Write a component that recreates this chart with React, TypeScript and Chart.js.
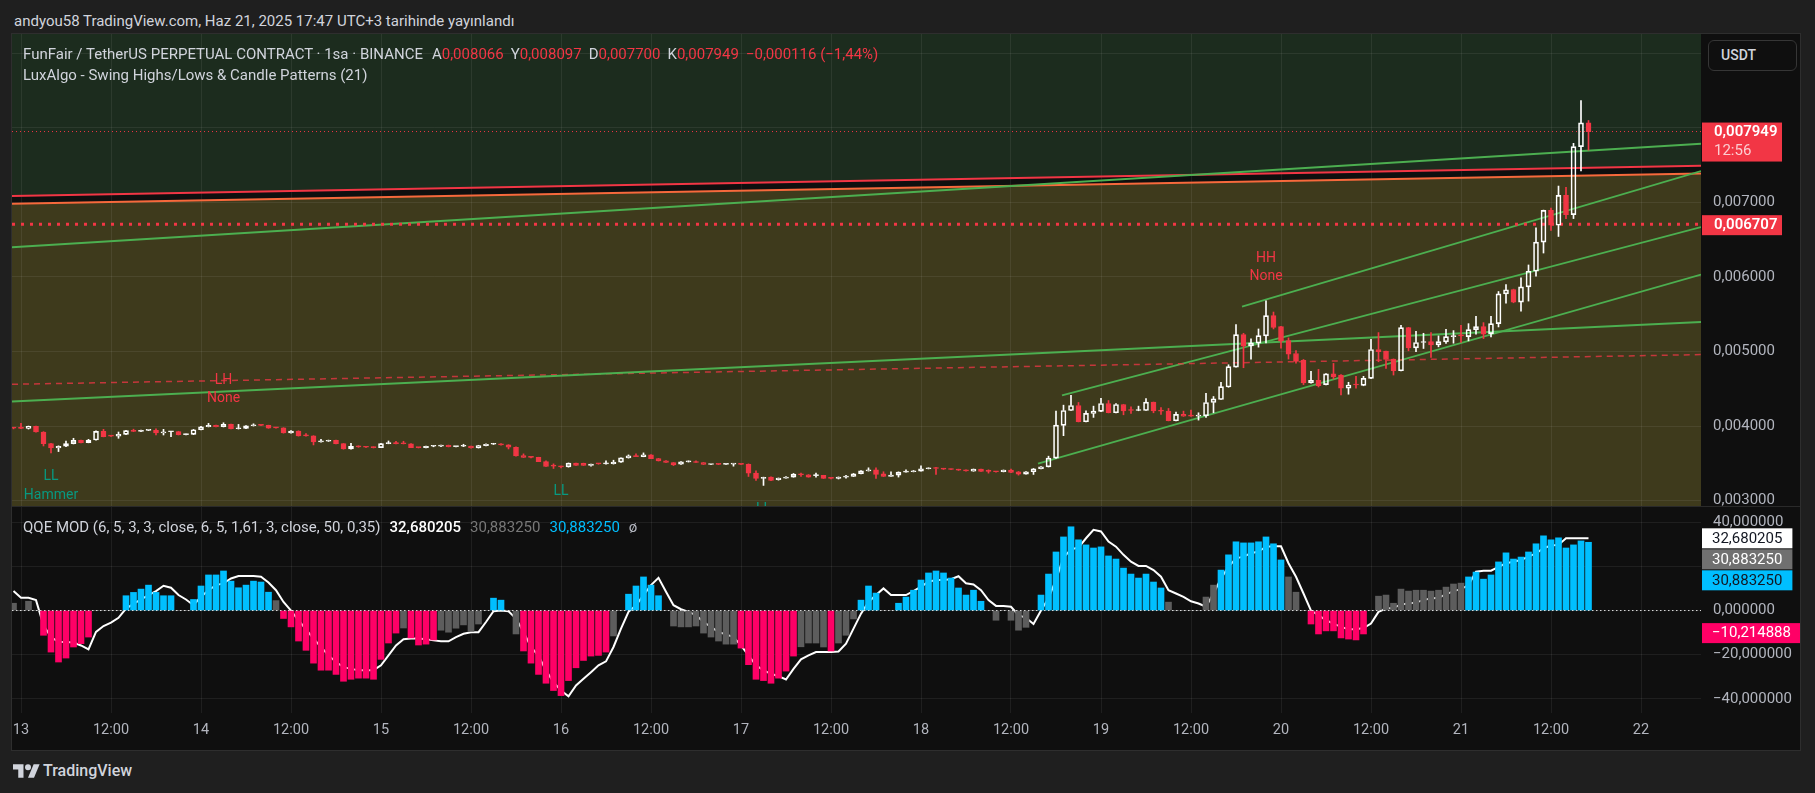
import React, { useEffect, useRef } from 'react';
import { Chart, registerables } from 'chart.js';

Chart.register(...registerables);

// ---------------- DATA ----------------
// Hourly candles (1sa). Index 0 = 13 Jun 00:00, first candle is index -1 (12 Jun 23:00).
const firstCandleIndex = -1;
// prices in millionths (3978 => 0,003978)
const candleOpen = [
  3978, 3973, 3969, 3996, 3920, 3764, 3707, 3729, 3764, 3809,
  3778, 3813, 3929, 3868, 3866, 3889, 3938, 3929, 3942, 3943,
  3907, 3924, 3926, 3884, 3889, 3951, 3991, 4009, 3991, 4022,
  3964, 3969, 4004, 4018, 4009, 3978, 3975, 3907, 3933, 3872,
  3868, 3787, 3796, 3809, 3764, 3693, 3729, 3720, 3716, 3711,
  3764, 3769, 3766, 3763, 3711, 3710, 3729, 3730, 3742, 3724,
  3729, 3730, 3707, 3738, 3756, 3760, 3747, 3716, 3604, 3584,
  3580, 3524, 3466, 3458, 3453, 3502, 3500, 3471, 3495, 3493,
  3494, 3516, 3573, 3600, 3591, 3613, 3564, 3533, 3511, 3489,
  3520, 3524, 3511, 3484, 3490, 3486, 3489, 3490, 3487, 3369,
  3298, 3316, 3280, 3302, 3316, 3352, 3347, 3336, 3338, 3302,
  3298, 3316, 3324, 3360, 3400, 3413, 3360, 3324, 3342, 3382,
  3387, 3396, 3427, 3438, 3431, 3424, 3418, 3411, 3396, 3422,
  3396, 3390, 3387, 3409, 3387, 3356, 3387, 3427, 3453, 3569,
  4009, 4209, 4276, 4058, 4169, 4196, 4302, 4178, 4289, 4213,
  4209, 4209, 4320, 4204, 4200, 4071, 4156, 4138, 4134, 4138,
  4316, 4356, 4524, 4791, 5227, 5076, 5111, 5209, 5480, 5333,
  5147, 4973, 4880, 4578, 4613, 4556, 4700, 4684, 4507, 4555,
  4545, 4640, 5027, 5004, 4898, 4742, 5320, 5049, 5120, 5133,
  5089, 5129, 5200, 5216, 5200, 5293, 5333, 5240, 5373, 5773,
  5831, 5662, 5867, 6076, 6467, 6893, 6693, 7093, 6836, 7747,
  8066,
];
const candleHigh = [
  3982, 4036, 4000, 3998, 3925, 3770, 3735, 3800, 3836, 3812,
  3822, 3935, 3956, 3872, 3920, 3942, 3958, 3946, 3946, 3964,
  3956, 3928, 3930, 3895, 3955, 3995, 4036, 4012, 4044, 4025,
  4022, 4008, 4030, 4020, 4012, 3982, 3978, 3938, 3936, 3900,
  3871, 3822, 3812, 3811, 3766, 3769, 3735, 3726, 3722, 3767,
  3800, 3796, 3796, 3765, 3714, 3733, 3738, 3746, 3745, 3733,
  3756, 3733, 3742, 3760, 3769, 3764, 3750, 3720, 3627, 3590,
  3582, 3533, 3493, 3462, 3505, 3504, 3503, 3491, 3498, 3533,
  3542, 3575, 3613, 3627, 3640, 3616, 3567, 3536, 3513, 3522,
  3533, 3533, 3513, 3491, 3493, 3496, 3493, 3494, 3493, 3400,
  3315, 3318, 3304, 3324, 3364, 3369, 3349, 3369, 3340, 3308,
  3318, 3338, 3364, 3404, 3440, 3440, 3387, 3387, 3386, 3413,
  3404, 3467, 3440, 3445, 3434, 3427, 3422, 3413, 3424, 3424,
  3413, 3392, 3411, 3422, 3390, 3390, 3431, 3458, 3596, 4200,
  4280, 4413, 4316, 4204, 4267, 4373, 4342, 4300, 4292, 4258,
  4267, 4369, 4322, 4249, 4236, 4187, 4200, 4213, 4178, 4440,
  4396, 4587, 4822, 5360, 5244, 5169, 5302, 5680, 5529, 5336,
  5182, 5013, 4893, 4733, 4760, 4702, 4840, 4690, 4587, 4667,
  4667, 5164, 5253, 5006, 4900, 5351, 5324, 5271, 5244, 5253,
  5209, 5298, 5280, 5351, 5373, 5471, 5387, 5471, 5804, 5898,
  5836, 5987, 6160, 6658, 6896, 6924, 7218, 7200, 7791, 8364,
  8097,
];
const candleLow = [
  3962, 3964, 3960, 3918, 3733, 3640, 3658, 3725, 3760, 3775,
  3775, 3810, 3855, 3862, 3836, 3885, 3925, 3925, 3938, 3880,
  3880, 3858, 3880, 3880, 3885, 3948, 3988, 3988, 3988, 3962,
  3960, 3966, 4000, 4005, 3970, 3970, 3905, 3905, 3865, 3865,
  3747, 3785, 3794, 3762, 3690, 3690, 3715, 3712, 3706, 3709,
  3762, 3760, 3760, 3709, 3706, 3708, 3722, 3722, 3720, 3720,
  3726, 3705, 3705, 3735, 3754, 3742, 3693, 3596, 3576, 3574,
  3522, 3455, 3431, 3440, 3449, 3468, 3470, 3462, 3488, 3490,
  3490, 3514, 3570, 3588, 3588, 3562, 3531, 3509, 3470, 3487,
  3518, 3509, 3482, 3482, 3482, 3484, 3462, 3484, 3324, 3271,
  3204, 3269, 3275, 3300, 3314, 3324, 3314, 3314, 3296, 3290,
  3290, 3300, 3322, 3358, 3396, 3298, 3322, 3320, 3316, 3380,
  3385, 3394, 3425, 3351, 3418, 3414, 3405, 3396, 3394, 3389,
  3369, 3380, 3385, 3376, 3342, 3354, 3351, 3425, 3451, 3565,
  3871, 4205, 4055, 4055, 4116, 4194, 4176, 4176, 4151, 4169,
  4205, 4205, 4178, 4155, 4069, 4069, 4130, 4130, 4080, 4116,
  4178, 4354, 4520, 4789, 4782, 4898, 5058, 5116, 5302, 5044,
  4898, 4844, 4556, 4575, 4524, 4550, 4631, 4418, 4427, 4507,
  4540, 4636, 4862, 4773, 4684, 4740, 5009, 4996, 5040, 4920,
  5062, 5107, 5111, 5120, 5142, 5231, 5173, 5196, 5329, 5649,
  5653, 5542, 5676, 6009, 6320, 6622, 6542, 6782, 6782, 7422,
  7700,
];
const candleClose = [
  3973, 3969, 3996, 3920, 3764, 3707, 3729, 3764, 3809, 3778,
  3813, 3929, 3858, 3866, 3889, 3938, 3929, 3942, 3943, 3907,
  3924, 3926, 3884, 3889, 3951, 3991, 4009, 3991, 4022, 3964,
  3969, 4004, 4018, 4009, 3973, 3975, 3907, 3933, 3867, 3868,
  3787, 3796, 3809, 3764, 3693, 3729, 3720, 3716, 3711, 3764,
  3769, 3764, 3763, 3711, 3710, 3729, 3730, 3742, 3724, 3729,
  3730, 3707, 3738, 3756, 3760, 3747, 3716, 3600, 3578, 3580,
  3524, 3458, 3462, 3453, 3502, 3471, 3471, 3489, 3493, 3494,
  3516, 3573, 3600, 3591, 3613, 3564, 3533, 3511, 3480, 3520,
  3521, 3511, 3484, 3489, 3486, 3493, 3490, 3487, 3369, 3298,
  3311, 3271, 3302, 3316, 3356, 3347, 3316, 3338, 3298, 3298,
  3316, 3324, 3360, 3400, 3413, 3351, 3324, 3342, 3382, 3387,
  3400, 3427, 3436, 3431, 3422, 3418, 3409, 3400, 3422, 3391,
  3393, 3387, 3409, 3378, 3356, 3387, 3427, 3453, 3569, 4013,
  4209, 4276, 4058, 4169, 4200, 4302, 4178, 4289, 4204, 4209,
  4212, 4320, 4204, 4200, 4071, 4156, 4133, 4134, 4147, 4316,
  4364, 4529, 4796, 5227, 5071, 5116, 5213, 5480, 5324, 5138,
  4964, 4867, 4578, 4613, 4542, 4700, 4660, 4507, 4551, 4550,
  4640, 5027, 4996, 4893, 4742, 5320, 5049, 5120, 5129, 5089,
  5133, 5200, 5213, 5209, 5293, 5333, 5231, 5373, 5773, 5827,
  5662, 5867, 6076, 6467, 6893, 6693, 7093, 6836, 7747, 8065,
  7949,
];

// QQE MOD histogram (same hourly index as candles) and colour codes: b = blue, r = pink, g = grey
const qqeHist = [
  3.3, 0, 4.2, 0, -11.2, -18.8, -23.3, -21.5, -16.5, -15,
  -12, 0, 0, 0, 0, 6.7, 8.2, 9.7, 11.5, 8.2,
  6.7, 6.7, 0, 0, 5, 11.1, 16.1, 16.1, 17.9, 13.3,
  10.3, 11.5, 13.3, 12.9, 8.3, 4.5, -3.6, -7.4, -13.8, -18,
  -23.8, -27, -27, -28.9, -32, -31.1, -30.6, -30.6, -31.1, -22.1,
  -14.7, -10.2, -7.9, -12.4, -15.6, -15.2, -13.3, -8.9, -9.8, -8,
  -6.5, -9.4, -6.1, 0, 5.6, 4.7, 0, -10.6, -18.3, -23.8,
  -28.9, -32.9, -36.2, -38.5, -31.7, -25.9, -22.6, -20.6, -20.3, -18.8,
  -11.5, 0, 7.4, 11.1, 15.2, 11.5, 6.7, 0, -7, -7.4,
  -7.4, -7, -10.2, -12, -13.8, -15.2, -15.2, -17, -24.5, -31.1,
  -31.7, -32.9, -30.6, -27.4, -20.6, -16.4, -14.7, -14.7, -16.5, -18.3,
  -14.7, -11.2, -3.8, 4.7, 11.1, 7.9, 0, 0, 3.3, 6.1,
  9.2, 13.8, 17, 17.9, 17, 14.7, 10.2, 7, 9.2, 4.2,
  0, -4.4, 0, -4.4, -8.9, -7.6, 0, 7, 16.5, 26.5,
  33.3, 37.9, 32, 29.7, 28.3, 28.8, 24.7, 23.3, 19.2, 16.5,
  14.7, 16.5, 12.9, 10.2, 3.8, 0, 0, 0, 0, 6.1,
  11.5, 18.3, 25.2, 31.1, 30.6, 30.6, 31.1, 33.3, 30.2, 22.9,
  15.2, 8.3, 0, -6.1, -10.6, -9.2, -9.2, -12.4, -12.9, -13.3,
  -10.6, 0, 6.5, 7, 3.3, 9.7, 8.8, 9.2, 9.2, 8.8,
  9.2, 10.6, 12, 12.4, 15.2, 17.4, 14.2, 16.1, 22, 26.1,
  23.3, 24.2, 26.5, 30.2, 33.8, 32, 32.9, 28.3, 29.7, 31.5,
  30.88325,
];
const qqeHistCodes = (
  'gggg' + 'rrrrrrr' + 'gggg' + 'bbbbbbb' + 'gg' + 'bbbbbbbbbbb' + 'g' +
  'rrrrrrrrrrrrrrrr' + 'g' + 'rrrr' + 'ggggggg' + 'bb' + 'gg' + 'rrrrrrrrrrrr' +
  'gg' + 'bbbbb' + 'gggggggggg' + 'rrrrrrrr' + 'gggg' + 'r' + 'ggg' + 'bbb' + 'gg' +
  'bbbbbbbbbbbb' + 'ggggggg' + 'bbbbbbbbbbbbbbbbb' + 'ggggggg' + 'bbbbbbbbb' + 'ggg' +
  'rrrrrrrr' + 'ggggggggggggg' + 'bbbbbbbbbbbbbbbbb'
).split('');
// QQE white line
const qqeLine = [
  8.8, 5.8, 5.8, 4.7, -6.7, -12, -14.2, -14.2, -14.5, -15.8,
  -17.6, -9.7, -7, -5.5, -3.3, 0.9, 3, 5, 7, 8.8,
  11.2, 10.3, 7, 5, 2.4, 6.2, 9.2, 11.5, 12.3, 14.5,
  15.6, 15.6, 15.6, 15.3, 12.7, 9.2, 3.9, 0, -4.4, -8.5,
  -12.7, -16.5, -20.3, -23.3, -25.6, -26.4, -27, -27, -27, -24.8,
  -20.3, -15.8, -13, -12.7, -12.7, -13, -13.5, -13.9, -13.9, -12,
  -10.5, -9.8, -9.8, -5.2, -0.3, 0, -0.3, -3.6, -9.7, -16.5,
  -20.5, -27.1, -32.4, -36.2, -38.8, -33.9, -30.9, -27.9, -24.8, -23,
  -16.5, -8.2, -0.6, 2.4, 7, 11.5, 14.8, 8.5, 2.4, 0.6,
  -0.6, -2.1, -5.2, -7.4, -9.7, -10.8, -12, -15.8, -20.3, -24.8,
  -27.1, -28.6, -29.7, -31.2, -26.4, -22.1, -20.3, -18.8, -18.8, -18.8,
  -18.5, -15, -8.2, -1.4, 3.9, 7, 10, 7, 7, 7,
  8.8, 10.8, 13, 13.8, 13.8, 14.2, 15.5, 12.3, 11.8, 9.2,
  4.7, 2.1, 2.1, 1.7, -2.1, -3.3, -6.1, 0, 5.5, 14,
  24, 27.7, 28.5, 32.7, 36.5, 35.8, 31.2, 28.9, 25.2, 22.1,
  20.2, 20.2, 18.3, 15.3, 9.2, 7.7, 6.2, 4.2, 3.2, 1.7,
  7.7, 14.5, 19.8, 23.6, 24.4, 25.9, 26.7, 28.9, 29.1, 29.1,
  21.4, 15.3, 7.7, 0, -2.1, -4.4, -5.9, -7.4, -8.5, -8.5,
  -7.9, -5.9, -0.6, 0.9, 1.2, 2.7, 3.2, 3.6, 4.8, 5.5,
  5.8, 7.3, 8.8, 9.7, 11.5, 17.6, 18, 18, 19.8, 21.4,
  22.1, 22.9, 24.4, 25.9, 28.2, 29.4, 29.7, 32.7, 32.7, 32.7,
  32.680205,
];
// axis marker values in the QQE pane (line, grey, blue, hidden series)
const qqeMarkValues = [32.680205, 30.88325, 30.88325, -10.214888];

// Trend lines [hour index, price]
const redTrend = [[-1.2, 0.007085], [224, 0.007489]];
const orangeTrend = [[-1.2, 0.006981], [224, 0.007385]];
const greenLongUpper = [[-1.2, 0.006397], [224, 0.007786]];
const greenLongLower = [[-1.2, 0.004328], [224, 0.005396]];
const redDashedLevel = [[-1.2, 0.00456], [224, 0.004958]];
const channelUpper = [[162.8, 0.0056], [224, 0.007419]];
const channelMiddle = [[138.8, 0.004412], [224, 0.006669]];
const channelLower = [[135.6, 0.003497], [224, 0.00603]];
const dottedLevel = 0.006707;
const barCountdown = '12:56';

// Swing labels
const swingLabelIndex = [4, 27, 72, 99, 166];
const swingLabelSide = ['low', 'high', 'low', 'low', 'high'];
const swingLabelTop = ['LL', 'LH', 'LL', 'LL', 'HH'];
const swingLabelBottom = ['Hammer', 'None', '', '', 'None'];

// Axes
const timeTickValues = [0, 12, 24, 36, 48, 60, 72, 84, 96, 108, 120, 132, 144, 156, 168, 180, 192, 204, 216];
const timeTickLabels = ['13', '12:00', '14', '12:00', '15', '12:00', '16', '12:00', '17', '12:00', '18', '12:00', '19', '12:00', '20', '12:00', '21', '12:00', '22'];
const priceTickValues = [0.003, 0.004, 0.005, 0.006, 0.007, 0.008, 0.009];
const priceTickShown = [true, true, true, true, true, false, false];
const qqeTickValues = [40, 20, 0, -20, -40];
const qqeTickShown = [true, false, true, true, true];

// ---------------- STYLE ----------------
const FONT = 'Roboto, "Noto Sans", sans-serif';
const RED = '#f23645';
const ORANGE = '#f7693c';
const GREEN = '#4caf50';
const TEAL = '#089981';
const WHITE = '#ffffff';
const BLUE = '#00bfff';
const PINK = '#ff0066';
const GREYBAR = '#5d5d5d';
const GRID = 'rgba(255,255,255,0.07)';
const AXIS_TEXT = '#b2b5be';
const TEXT = '#d1d4dc';
const GREEN_ZONE = '#1c2c1e';
const BAND_ZONE = '#4a4826';
const OLIVE_ZONE = '#3e3a1c';

const X_MIN = -1.2;
const X_MAX = 224;
const PRICE_MIN = 0.002928;
const PRICE_MAX = 0.009257;
const QQE_MIN = -44.1;
const QQE_MAX = 47.3;
const AXIS_W = 99;
const AXIS_FONT = 15;

const fmt6 = (v: number) => (v < 0 ? '\u2212' : '') + Math.abs(v).toFixed(6).replace('.', ',');
const px = (v: number) => v / 1e6;
const xy = (pts: number[][]) => pts.map((p) => ({ x: p[0], y: p[1] }));

function buildMain(canvas: HTMLCanvasElement) {
  const idx = candleClose.map((_, k) => firstCandleIndex + k);
  const isUp = (k: number) => candleClose[k] >= candleOpen[k];
  const colors = idx.map((_, k) => (isUp(k) ? WHITE : RED));
  const bodyData = idx.map((x, k) => ({ x, y: [px(candleOpen[k]), px(candleClose[k])] }));
  const wickLow = idx.map((x, k) => ({ x, y: [px(candleLow[k]), px(Math.min(candleOpen[k], candleClose[k]))] }));
  const wickHigh = idx.map((x, k) => ({ x, y: [px(Math.max(candleOpen[k], candleClose[k])), px(candleHigh[k])] }));
  const lastClose = px(candleClose[candleClose.length - 1]);

  const line = (pts: number[][], color: string, width: number, dash: number[], order: number, extra: any = {}) => ({
    type: 'line',
    data: xy(pts),
    borderColor: color,
    borderWidth: width,
    borderDash: dash,
    pointRadius: 0,
    tension: 0,
    fill: false,
    order,
    ...extra,
  });

  const swingPlugin = {
    id: 'swingLabels',
    afterDatasetsDraw(chart: any) {
      const { ctx, chartArea, scales } = chart;
      ctx.save();
      ctx.beginPath();
      ctx.rect(chartArea.left, chartArea.top, chartArea.right - chartArea.left, chartArea.bottom - chartArea.top);
      ctx.clip();
      ctx.font = `14px ${FONT}`;
      ctx.textAlign = 'center';
      ctx.textBaseline = 'middle';
      swingLabelIndex.forEach((ci, n) => {
        const k = ci - firstCandleIndex;
        const high = swingLabelSide[n] === 'high';
        const anchor = scales.y.getPixelForValue(px(high ? candleHigh[k] : candleLow[k]));
        const x = scales.x.getPixelForValue(ci);
        ctx.fillStyle = high ? RED : TEAL;
        ctx.fillText(swingLabelTop[n], x, high ? anchor - 42 : anchor + 24);
        if (swingLabelBottom[n]) ctx.fillText(swingLabelBottom[n], x, high ? anchor - 24 : anchor + 43);
      });
      ctx.restore();
    },
  };

  const boxPlugin = {
    id: 'priceBoxes',
    afterDraw(chart: any) {
      const { ctx, chartArea, scales } = chart;
      const x0 = chartArea.right + 1;
      ctx.save();
      ctx.textAlign = 'left';
      ctx.textBaseline = 'middle';
      const yp = scales.y.getPixelForValue(lastClose);
      ctx.fillStyle = RED;
      ctx.fillRect(x0, yp - 9, 80, 39);
      ctx.font = `600 ${AXIS_FONT}px ${FONT}`;
      ctx.fillStyle = WHITE;
      ctx.fillText(fmt6(lastClose), x0 + 12, yp + 1);
      ctx.font = `${AXIS_FONT}px ${FONT}`;
      ctx.fillStyle = 'rgba(255,255,255,0.75)';
      ctx.fillText(barCountdown, x0 + 12, yp + 19.5);
      const yl = scales.y.getPixelForValue(dottedLevel);
      ctx.fillStyle = RED;
      ctx.fillRect(x0, yl - 9, 80, 20);
      ctx.font = `600 ${AXIS_FONT}px ${FONT}`;
      ctx.fillStyle = WHITE;
      ctx.fillText(fmt6(dottedLevel), x0 + 12, yl + 1.5);
      ctx.restore();
    },
  };

  return new Chart(canvas, {
    type: 'bar',
    data: {
      datasets: [
        line(redTrend, RED, 2, [], 20, { fill: 'end', backgroundColor: GREEN_ZONE }),
        line(orangeTrend, ORANGE, 2, [], 20, { fill: '-1', backgroundColor: BAND_ZONE }),
        line(orangeTrend, 'rgba(0,0,0,0)', 0, [], 21, { fill: 'start', backgroundColor: OLIVE_ZONE }),
        line(greenLongUpper, GREEN, 2, [], 10),
        line(greenLongLower, GREEN, 2, [], 10),
        line(redDashedLevel, 'rgba(242,54,69,0.75)', 1.5, [6, 5], 10),
        line(channelUpper, GREEN, 1.8, [], 10),
        line(channelMiddle, GREEN, 1.8, [], 10),
        line(channelLower, GREEN, 1.8, [], 10),
        line([[X_MIN, dottedLevel], [X_MAX, dottedLevel]], RED, 3, [3, 6], 9),
        line([[X_MIN, lastClose], [X_MAX, lastClose]], RED, 1, [1, 3], 9),
        { type: 'bar', data: wickLow, backgroundColor: colors, barThickness: 1, grouped: false, order: 2 },
        { type: 'bar', data: wickHigh, backgroundColor: colors, barThickness: 1, grouped: false, order: 2 },
        {
          type: 'bar',
          data: bodyData,
          backgroundColor: idx.map((_, k) => (isUp(k) ? 'rgba(0,0,0,0)' : RED)),
          borderColor: colors,
          borderWidth: 1,
          borderSkipped: false,
          barThickness: 5,
          minBarLength: 1,
          grouped: false,
          order: 1,
        },
      ] as any,
    },
    options: {
      animation: false,
      responsive: false,
      maintainAspectRatio: false,
      layout: { padding: 0 },
      plugins: {
        legend: { display: false },
        tooltip: { enabled: false },
        filler: { drawTime: 'beforeDraw' },
      } as any,
      scales: {
        x: {
          type: 'linear',
          min: X_MIN,
          max: X_MAX,
          offset: false,
          grid: { color: GRID, offset: false, drawTicks: false },
          border: { display: false },
          ticks: { display: false },
          afterBuildTicks: (s: any) => {
            s.ticks = timeTickValues.map((v) => ({ value: v }));
          },
          afterFit: (s: any) => {
            s.height = 0;
            s.paddingLeft = 0;
            s.paddingRight = 0;
          },
        },
        y: {
          type: 'linear',
          position: 'right',
          min: PRICE_MIN,
          max: PRICE_MAX,
          grid: { color: GRID, drawTicks: false },
          border: { display: false },
          ticks: {
            autoSkip: false,
            color: AXIS_TEXT,
            font: { size: AXIS_FONT, family: FONT },
            padding: 12,
            callback: (v: any, i: number) => (priceTickShown[i] ? fmt6(Number(v)) : ''),
          },
          afterBuildTicks: (s: any) => {
            s.ticks = priceTickValues.map((v) => ({ value: v }));
          },
          afterFit: (s: any) => {
            s.width = AXIS_W;
            s.paddingTop = 0;
            s.paddingBottom = 0;
          },
        },
      } as any,
    },
    plugins: [swingPlugin, boxPlugin],
  } as any);
}

function buildQqe(canvas: HTMLCanvasElement) {
  const idx = qqeHist.map((_, k) => firstCandleIndex + k);
  const colorMap: Record<string, string> = { b: BLUE, r: PINK, g: GREYBAR };
  const markBg = [WHITE, '#707070', BLUE, PINK];
  const markFg = ['#131722', WHITE, '#131722', WHITE];

  const markPlugin = {
    id: 'qqeMarks',
    afterDraw(chart: any) {
      const { ctx, chartArea, scales } = chart;
      const x0 = chartArea.right + 1;
      ctx.save();
      ctx.font = `${AXIS_FONT}px ${FONT}`;
      ctx.textAlign = 'left';
      ctx.textBaseline = 'middle';
      let prevBottom = -Infinity;
      qqeMarkValues.forEach((v, n) => {
        const h = 20;
        let cy = scales.y.getPixelForValue(v);
        if (cy - h / 2 < prevBottom + 1) cy = prevBottom + 1 + h / 2;
        const label = fmt6(v);
        const w = ctx.measureText(label).width + 20;
        ctx.fillStyle = markBg[n];
        ctx.fillRect(x0, cy - h / 2, w, h);
        ctx.fillStyle = markFg[n];
        ctx.fillText(label, x0 + 10, cy + 0.5);
        prevBottom = cy + h / 2;
      });
      ctx.restore();
    },
  };

  return new Chart(canvas, {
    type: 'bar',
    data: {
      datasets: [
        {
          type: 'line',
          data: [{ x: X_MIN, y: 0 }, { x: X_MAX, y: 0 }],
          borderColor: 'rgba(255,255,255,0.85)',
          borderWidth: 1,
          borderDash: [1.5, 2.5],
          pointRadius: 0,
          fill: false,
          order: 0,
        },
        {
          type: 'bar',
          data: idx.map((x, k) => ({ x, y: qqeHist[k] })),
          backgroundColor: qqeHistCodes.map((c) => colorMap[c]),
          barThickness: 6,
          grouped: false,
          order: 1,
        },
        {
          type: 'line',
          data: idx.map((x, k) => ({ x, y: qqeLine[k] })),
          borderColor: WHITE,
          borderWidth: 2,
          pointRadius: 0,
          tension: 0,
          fill: false,
          order: 2,
        },
      ] as any,
    },
    options: {
      animation: false,
      responsive: false,
      maintainAspectRatio: false,
      layout: { padding: 0 },
      plugins: { legend: { display: false }, tooltip: { enabled: false } },
      scales: {
        x: {
          type: 'linear',
          min: X_MIN,
          max: X_MAX,
          offset: false,
          grid: { color: GRID, offset: false, drawTicks: true, tickLength: 5, tickColor: GRID },
          border: { display: false },
          ticks: {
            autoSkip: false,
            maxRotation: 0,
            minRotation: 0,
            color: AXIS_TEXT,
            font: { size: 14.5, family: FONT },
            padding: 9,
            callback: (_v: any, i: number) => timeTickLabels[i],
          },
          afterBuildTicks: (s: any) => {
            s.ticks = timeTickValues.map((v) => ({ value: v }));
          },
          afterFit: (s: any) => {
            s.height = 42;
            s.paddingLeft = 0;
            s.paddingRight = 0;
          },
        },
        y: {
          type: 'linear',
          position: 'right',
          min: QQE_MIN,
          max: QQE_MAX,
          grid: { color: GRID, drawTicks: false },
          border: { display: false },
          ticks: {
            autoSkip: false,
            color: AXIS_TEXT,
            font: { size: AXIS_FONT, family: FONT },
            padding: 12,
            callback: (v: any, i: number) => (qqeTickShown[i] ? fmt6(Number(v)) : ''),
          },
          afterBuildTicks: (s: any) => {
            s.ticks = qqeTickValues.map((v) => ({ value: v }));
          },
          afterFit: (s: any) => {
            s.width = AXIS_W;
            s.paddingTop = 0;
            s.paddingBottom = 0;
          },
        },
      } as any,
    },
    plugins: [markPlugin],
  } as any);
}

const abs = (left: number, top: number, extra: React.CSSProperties = {}): React.CSSProperties => ({
  position: 'absolute',
  left,
  top,
  whiteSpace: 'nowrap',
  ...extra,
});

export default function App() {
  const mainRef = useRef<HTMLCanvasElement>(null);
  const qqeRef = useRef<HTMLCanvasElement>(null);

  useEffect(() => {
    Chart.defaults.font.family = FONT;
    const main = buildMain(mainRef.current as HTMLCanvasElement);
    const qqe = buildQqe(qqeRef.current as HTMLCanvasElement);
    return () => {
      main.destroy();
      qqe.destroy();
    };
  }, []);

  const n = candleClose.length;
  const o = candleOpen[n - 1];
  const h = candleHigh[n - 1];
  const l = candleLow[n - 1];
  const c = candleClose[n - 1];
  const chg = c - candleClose[n - 2];
  const chgPct = (chg / candleClose[n - 2]) * 100;
  const pct = (chgPct < 0 ? '\u2212' : '') + Math.abs(chgPct).toFixed(2).replace('.', ',');

  const text: React.CSSProperties = { fontFamily: FONT, fontSize: 15, lineHeight: '18px', color: TEXT };
  const gap = { marginLeft: 7 };

  return (
    <div
      style={{
        position: 'fixed',
        left: 0,
        top: 0,
        width: 1815,
        height: 793,
        background: '#1f1f1f',
        overflow: 'hidden',
        fontFamily: FONT,
      }}
    >
      <div style={abs(14, 12, text)}>andyou58 TradingView.com, Haz 21, 2025 17:47 UTC+3 tarihinde yayınlandı</div>

      <div
        style={abs(11, 33, {
          width: 1790,
          height: 718,
          border: '1px solid #2e2e2e',
          boxSizing: 'border-box',
          background: '#0f0f0f',
        })}
      />
      <canvas ref={mainRef} width={1788} height={472} style={abs(12, 34, { width: 1788, height: 472, display: 'block' })} />
      <canvas ref={qqeRef} width={1788} height={244} style={abs(12, 506, { width: 1788, height: 244, display: 'block' })} />
      <div style={abs(12, 506, { width: 1788, height: 1, background: '#2a2a2a' })} />

      <div style={abs(23, 45, text)}>
        <span>FunFair / TetherUS PERPETUAL CONTRACT · 1sa · BINANCE</span>
        <span style={{ marginLeft: 9 }}>A</span>
        <span style={{ color: RED }}>{fmt6(px(o))}</span>
        <span style={gap}>Y</span>
        <span style={{ color: RED }}>{fmt6(px(h))}</span>
        <span style={gap}>D</span>
        <span style={{ color: RED }}>{fmt6(px(l))}</span>
        <span style={gap}>K</span>
        <span style={{ color: RED }}>{fmt6(px(c))}</span>
        <span style={{ ...gap, color: RED }}>
          {fmt6(px(chg))} ({pct}%)
        </span>
      </div>
      <div style={abs(23, 66, text)}>LuxAlgo - Swing Highs/Lows &amp; Candle Patterns (21)</div>

      <div style={abs(23, 518, text)}>
        <span>QQE MOD (6, 5, 3, 3, close, 6, 5, 1,61, 3, close, 50, 0,35)</span>
        <span style={{ marginLeft: 9, color: WHITE, fontWeight: 500 }}>{fmt6(qqeMarkValues[0])}</span>
        <span style={{ marginLeft: 9, color: '#787878' }}>{fmt6(qqeMarkValues[1])}</span>
        <span style={{ marginLeft: 9, color: BLUE }}>{fmt6(qqeMarkValues[2])}</span>
        <span style={{ marginLeft: 9, color: AXIS_TEXT }}>ø</span>
      </div>

      <div
        style={abs(1708, 40, {
          width: 89,
          height: 31,
          border: '1px solid #363636',
          borderRadius: 6,
          boxSizing: 'border-box',
          background: '#0f0f0f',
          color: TEXT,
          fontFamily: FONT,
          fontSize: 14,
          fontWeight: 500,
          lineHeight: '29px',
          paddingLeft: 12,
        })}
      >
        USDT
      </div>

      <svg width={27} height={14} viewBox="0 4 36 18" style={abs(13, 764)}>
        <path d="M14 22H7V11H0V4h14v18Z" fill={TEXT} />
        <circle cx={20} cy={8} r={4} fill={TEXT} />
        <path d="M28 22h-8l7.5-18h8L28 22Z" fill={TEXT} />
      </svg>
      <div style={abs(43, 761, { fontFamily: FONT, fontSize: 16, fontWeight: 500, lineHeight: '20px', color: TEXT })}>
        TradingView
      </div>
    </div>
  );
}
